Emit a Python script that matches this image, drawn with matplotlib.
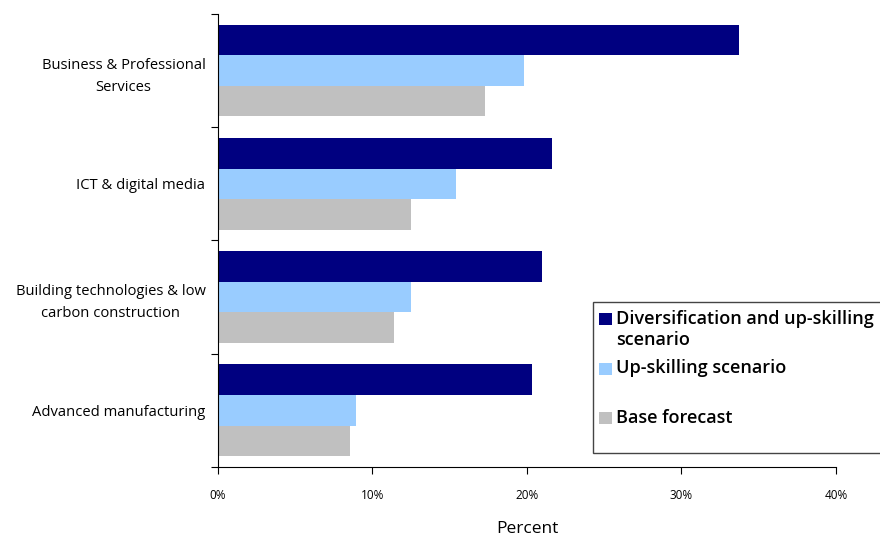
import numpy as np
import matplotlib.pyplot as plt
from matplotlib.patches import Rectangle

categories = ["Business & Professional\nServices", "ICT & digital media",
              "Building technologies & low\ncarbon construction", "Advanced manufacturing"]
diversification = [33.7, 21.6, 21.0, 20.35]
upskilling = [19.8, 15.4, 12.5, 8.95]
base = [17.3, 12.5, 11.4, 8.55]
series_names = ["Diversification and up-skilling\nscenario", "Up-skilling scenario", "Base forecast"]
series_colors = ['#000080', '#99CCFF', '#C0C0C0']
x_ticks = [0, 10, 20, 30, 40]

plt.rcParams['font.family'] = ['Open Sans', 'DejaVu Sans']

W, H = 880, 537
fig = plt.figure(figsize=(W / 100, H / 100), dpi=100)
ax = fig.add_axes([0.2477, 0.1304, 0.7023, 0.8436])

# Business at top
pos = np.arange(len(categories))[::-1]
h = 0.27
for off, vals, col, name in zip([h, 0, -h], [diversification, upskilling, base],
                                series_colors, series_names):
    ax.barh(pos + off, vals, height=h, color=col, label=name)

ax.set_xlim(0, 40)
ax.set_ylim(-0.5, len(categories) - 0.5)
ax.set_xticks(x_ticks)
ax.set_xticklabels([f"{v}%" for v in x_ticks], fontsize=8.5)
ax.tick_params(axis='x', length=5, width=0.8, pad=10.5)

# ticks at the boundaries, labels at centres
ax.set_yticks(np.arange(-0.5, len(categories), 1.0))
ax.set_yticklabels([])
ax.tick_params(axis='y', which='major', length=5, width=0.8)
ax.set_yticks(pos, minor=True)
ax.set_yticklabels(categories, minor=True, fontsize=10.6, ha='right',
                   multialignment='center', linespacing=1.65)
ax.tick_params(axis='y', which='minor', length=0, pad=9)

ax.spines['top'].set_visible(False)
ax.spines['right'].set_visible(False)
ax.spines['left'].set_linewidth(0.8)
ax.spines['bottom'].set_linewidth(0.8)

ax.set_xlabel('Percent', fontsize=12.5, labelpad=14)

# legend box (Excel style, runs off the right edge)
def fx(px):
    return px / W

def fy(py):
    return 1 - py / H

fig.patches.append(Rectangle((fx(593), fy(453)), fx(300), fy(302) - fy(453),
                             transform=fig.transFigure, facecolor='white',
                             edgecolor='#444444', linewidth=1.0, zorder=5))
square_tops = [313, 363, 412]
baselines = [324, 373, 423]
for top, bl, col, name in zip(square_tops, baselines, series_colors, series_names):
    fig.patches.append(Rectangle((fx(599), fy(top + 12)), fx(13), fy(top) - fy(top + 12),
                                 transform=fig.transFigure, facecolor=col,
                                 edgecolor='none', zorder=6))
    for i, line in enumerate(name.split('\n')):
        fig.text(fx(616), fy(bl + 21 * i), line, fontsize=13, fontweight='semibold',
                 va='baseline', ha='left', zorder=7)

fig.savefig('out.png', dpi=100)
